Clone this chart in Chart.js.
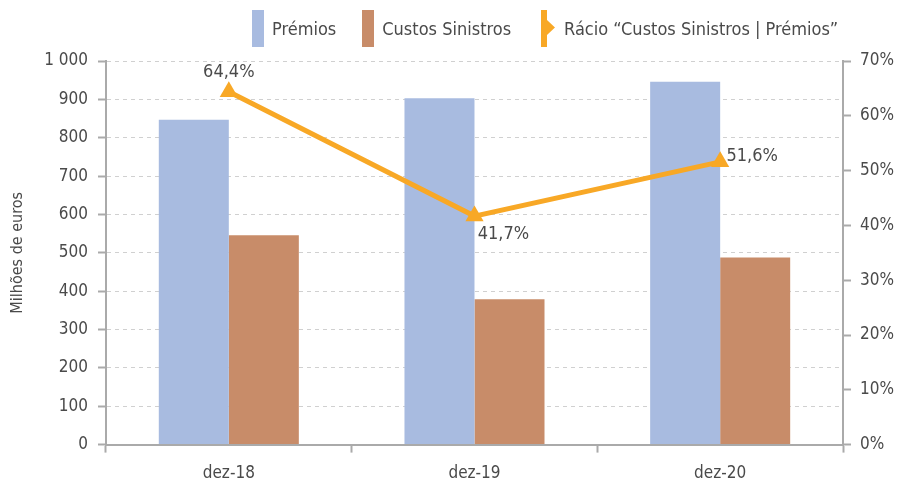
<!DOCTYPE html>
<html>
<head>
<meta charset="utf-8">
<script src="https://cdn.jsdelivr.net/npm/chart.js@4/dist/chart.umd.min.js"></script>
<style>
    body { margin: 0; background: #fff; }
    #wrap { position: relative; width: 904px; height: 487px; }
    #legend {
        position: absolute; top: 10px; left: 252px; height: 37px;
        display: flex; align-items: center;
        font-family: "DejaVu Sans Condensed", "DejaVu Sans", sans-serif; font-size: 18px; color: #4a4a4a;
    }
    .item { display: flex; align-items: center; }
    .box { width: 12px; height: 37px; margin-right: 8px; }
    canvas { display: block; }
</style>
</head>
<body>
<div id="wrap">
    <div id="legend"></div>
    <canvas id="chart" width="904" height="487"></canvas>
</div>
<script>
const categories = ['dez-18', 'dez-19', 'dez-20'];
const premios = [847, 903, 946];
const custos = [546, 379, 488];
const racio = [0.644, 0.417, 0.516];
const racioLabels = ['64,4%', '41,7%', '51,6%'];

const seriesNames = ['Prémios', 'Custos Sinistros', 'Rácio “Custos Sinistros | Prémios”'];
const colors = ['#A8BBE0', '#C88C69', '#F8A826'];

const FONT = '"DejaVu Sans Condensed", "DejaVu Sans", sans-serif';
const TXT = '#4a4a4a';

// legend (html)
const legend = document.getElementById('legend');
const gaps = [26, 30, 0];
seriesNames.forEach((name, i) => {
    let icon;
    if (i < 2) {
        icon = `<span class="box" style="background:${colors[i]}"></span>`;
    } else {
        icon = `<svg width="14" height="37" style="margin-right:9px"><rect x="0" y="0" width="6" height="37" fill="${colors[2]}"/><polygon points="6,10 14,17.5 6,25" fill="${colors[2]}"/></svg>`;
    }
    legend.insertAdjacentHTML('beforeend',
        `<span class="item" style="margin-right:${gaps[i]}px">${icon}<span>${name}</span></span>`);
});

// value labels on the ratio line
const labelOffsets = [[0, -19], [29, 18], [32, -6]];
const lineLabels = {
    id: 'lineLabels',
    afterDatasetsDraw(chart) {
        const ctx = chart.ctx;
        const meta = chart.getDatasetMeta(2);
        ctx.save();
        ctx.font = '18px ' + FONT;
        ctx.fillStyle = TXT;
        ctx.textAlign = 'center';
        ctx.textBaseline = 'middle';
        meta.data.forEach((pt, i) => {
            ctx.fillText(racioLabels[i], pt.x + labelOffsets[i][0], pt.y + labelOffsets[i][1]);
        });
        ctx.restore();
    }
};

Chart.defaults.font.family = FONT;
Chart.defaults.font.size = 17;
Chart.defaults.color = TXT;

new Chart(document.getElementById('chart'), {
    type: 'bar',
    data: {
        labels: categories,
        datasets: [
            {
                label: seriesNames[0],
                data: premios,
                backgroundColor: colors[0],
                yAxisID: 'y',
                order: 2
            },
            {
                label: seriesNames[1],
                data: custos,
                backgroundColor: colors[1],
                yAxisID: 'y',
                order: 2
            },
            {
                type: 'line',
                label: seriesNames[2],
                data: racio,
                borderColor: colors[2],
                backgroundColor: colors[2],
                borderWidth: 5,
                pointStyle: 'triangle',
                pointRadius: 10.5,
                pointBorderWidth: 0,
                tension: 0,
                yAxisID: 'y1',
                order: 1
            }
        ]
    },
    options: {
        responsive: false,
        animation: false,
        layout: { padding: { top: 61, left: 8.4, right: 1, bottom: -8 } },
        datasets: {
            bar: { categoryPercentage: 0.57, barPercentage: 1.0 }
        },
        plugins: {
            legend: { display: false },
            tooltip: { enabled: false }
        },
        scales: {
            x: {
                grid: { drawOnChartArea: false, color: '#aaa', tickLength: 8, tickWidth: 2 },
                border: { color: '#aaa', width: 2 },
                ticks: { padding: 11 }
            },
            y: {
                position: 'left',
                min: 0,
                max: 1000,
                ticks: {
                    stepSize: 100,
                    padding: 10,
                    callback: v => v >= 1000 ? '1 000' : String(v)
                },
                grid: {
                    color: '#d0d0d0',
                    tickColor: '#aaa',
                    tickLength: 8,
                    tickWidth: 2,
                    tickBorderDash: []
                },
                border: { color: '#aaa', width: 2, dash: [4, 4] },
                title: { display: true, text: 'Milhões de euros', font: { size: 16 }, padding: { top: 0, bottom: 6.6 } }
            },
            y1: {
                position: 'right',
                min: 0,
                max: 0.7,
                ticks: {
                    stepSize: 0.1,
                    padding: 9,
                    callback: v => Math.round(v * 100) + '%'
                },
                grid: { drawOnChartArea: false, color: '#aaa', tickLength: 8, tickWidth: 2 },
                border: { color: '#aaa', width: 2 }
            }
        }
    },
    plugins: [lineLabels]
});
</script>
</body>
</html>
